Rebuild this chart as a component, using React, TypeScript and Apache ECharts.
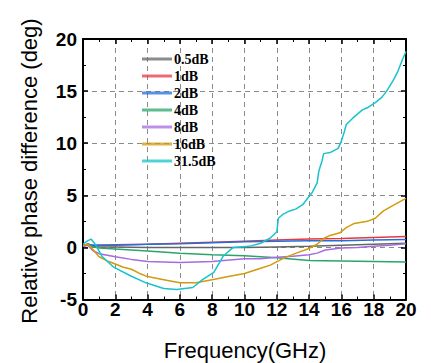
import React, { useEffect, useRef } from "react";
import * as echarts from "echarts";

const seriesNames = ["0.5dB", "1dB", "2dB", "4dB", "8dB", "16dB", "31.5dB"];
const seriesColors = ["#666666", "#e8383d", "#1f6fdc", "#2aa56a", "#a66be0", "#d29a0c", "#17c3cc"];

const xBase = [0, 0.3, 0.6, 1, 2, 4, 6, 8, 10, 12, 14, 16, 18, 20];
const y05 = [0.2, 0.3, 0.1, 0.05, 0.05, 0, 0, 0, 0, 0.05, 0.1, 0.2, 0.3, 0.4];
const y1 = [0.1, 0.3, 0.2, 0.2, 0.25, 0.3, 0.4, 0.5, 0.6, 0.7, 0.8, 0.85, 0.95, 1.05];
const y2 = [0.1, 0.3, 0.2, 0.2, 0.2, 0.3, 0.35, 0.45, 0.55, 0.6, 0.65, 0.65, 0.7, 0.75];
const y4 = [0.1, 0.3, 0.05, -0.05, -0.15, -0.35, -0.55, -0.7, -0.8, -1.0, -1.25, -1.3, -1.35, -1.4];

const x8 = [0, 0.3, 0.6, 1, 2, 3, 4, 6, 8, 10, 11, 12, 13, 14, 14.5, 15, 15.5, 16, 17, 18, 19, 20];
const y8 = [0.1, 0.2, -0.3, -0.6, -0.9, -1.15, -1.35, -1.45, -1.35, -1.1, -1.1, -0.95, -0.85, -0.7, -0.55, -0.25, -0.15, -0.05, 0, 0.1, 0.2, 0.35];

const x16 = [0, 0.3, 0.5, 1, 1.5, 2, 2.5, 3, 3.5, 4, 5, 6, 7, 8, 9, 10, 11, 11.6, 12.4, 13.2, 14, 14.5, 14.9, 15.3, 15.9, 16.3, 16.8, 17.6, 18.1, 18.6, 19.4, 20];
const y16 = [0.2, 0.3, 0, -0.9, -1.3, -1.6, -1.9, -2.1, -2.5, -2.8, -3.1, -3.4, -3.4, -3.1, -2.8, -2.5, -2.0, -1.7, -1.05, -0.55, -0.1, 0.3, 0.85, 1.15, 1.4, 1.9, 2.3, 2.5, 2.8, 3.5, 4.2, 4.7];

const x31 = [0, 0.25, 0.5, 0.8, 1.2, 1.9, 2.9, 3.9, 5, 5.8, 6.8, 7.4, 8.1, 8.7, 9.3, 10.3, 11, 11.6, 12, 12.1, 12.4, 12.8, 13.2, 13.6, 13.9, 14.2, 14.5, 14.6, 14.8, 14.9, 15.3, 15.8, 16, 16.2, 16.3, 16.7, 17.3, 17.6, 18.1, 18.5, 18.8, 19.2, 19.5, 19.8, 20];
const y31 = [0.3, 0.6, 0.8, 0.2, -0.9, -1.9, -2.7, -3.4, -3.95, -4.05, -3.85, -3.1, -2.4, -0.8, 0, 0.1, 0.4, 0.9, 1.5, 2.8, 3.2, 3.5, 3.7, 4.1, 4.7, 5.3, 6.2, 7.3, 8.3, 9.0, 9.1, 9.5, 10.2, 11.2, 11.8, 12.4, 13.2, 13.4, 13.9, 14.4, 15.0, 16.0, 16.9, 18.1, 18.8];

const xTicks = { min: 0, max: 20, interval: 2 };
const yTicks = { min: -5, max: 20, interval: 5 };

const seriesX = [xBase, xBase, xBase, xBase, x8, x16, x31];
const seriesY = [y05, y1, y2, y4, y8, y16, y31];

export default function App() {
  const ref = useRef<HTMLDivElement>(null);
  useEffect(() => {
    const chart = echarts.init(ref.current!, null, { renderer: "svg" });
    const labelFont = {
      color: "#000",
      fontFamily: "Liberation Sans, Arial, sans-serif",
      fontWeight: "bold" as const,
      fontSize: 19,
    };
    const axisCommon = {
      type: "value" as const,
      axisLine: { show: true, onZero: false, lineStyle: { color: "#000", width: 2 } },
      axisTick: { show: true, inside: true, length: 5, lineStyle: { color: "#000", width: 1.5 } },
      minorTick: { show: true, splitNumber: 2, length: 3, lineStyle: { color: "#000", width: 1 } },
    };
    chart.setOption({
      animation: false,
      backgroundColor: "#fff",
      grid: { left: 83, top: 39, right: 25, bottom: 63.5, containLabel: false },
      legend: {
        orient: "vertical",
        left: 137,
        top: 47,
        icon: "rect",
        itemWidth: 30,
        itemHeight: 3,
        itemGap: 3,
        data: seriesNames,
        itemStyle: { opacity: 0.75 },
        textStyle: {
          color: "#000",
          fontFamily: "Liberation Serif, Times New Roman, serif",
          fontWeight: "bold",
          fontSize: 14,
          lineHeight: 14,
          padding: [0, 0, 0, -3],
        },
      },
      xAxis: [
        {
          ...axisCommon,
          ...xTicks,
          position: "bottom",
          splitLine: { show: true, lineStyle: { color: "#8a8a8a", type: [5, 4], width: 1 } },
          axisLabel: { ...labelFont, margin: 0 },
        },
        {
          ...axisCommon,
          ...xTicks,
          position: "top",
          splitLine: { show: false },
          axisLabel: { show: false },
        },
      ],
      yAxis: [
        {
          ...axisCommon,
          ...yTicks,
          position: "left",
          splitLine: { show: true, lineStyle: { color: "#8a8a8a", type: [5, 4], width: 1 } },
          axisLabel: { ...labelFont, margin: 6 },
        },
        {
          ...axisCommon,
          ...yTicks,
          position: "right",
          splitLine: { show: false },
          axisLabel: { show: false },
        },
      ],
      graphic: [
        {
          type: "text",
          x: 29,
          y: 171,
          rotation: Math.PI / 2,
          style: {
            text: "Relative phase difference (deg)",
            textAlign: "center",
            textVerticalAlign: "middle",
            fontFamily: "Liberation Sans, Arial, sans-serif",
            fontSize: 22,
            fill: "#000",
          },
        },
        {
          type: "text",
          x: 245,
          y: 350,
          style: {
            text: "Frequency(GHz)",
            textAlign: "center",
            textVerticalAlign: "middle",
            fontFamily: "Liberation Sans, Arial, sans-serif",
            fontSize: 22,
            fill: "#000",
          },
        },
      ],
      series: seriesNames.map((name, i) => ({
        name,
        type: "line",
        xAxisIndex: 0,
        yAxisIndex: 0,
        showSymbol: false,
        symbol: "none",
        color: seriesColors[i],
        lineStyle: { width: 1.5, color: seriesColors[i] },
        data: seriesX[i].map((x, k) => [x, seriesY[i][k]]),
      })),
    });
    return () => chart.dispose();
  }, []);
  return (
    <div
      ref={ref}
      style={{ position: "fixed", left: 0, top: 0, width: 431, height: 363, background: "#fff" }}
    />
  );
}
